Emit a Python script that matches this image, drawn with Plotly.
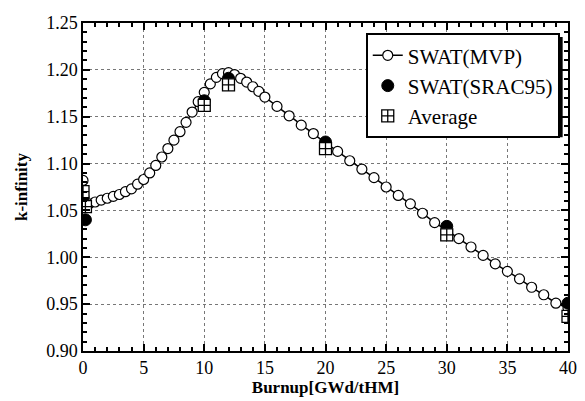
import plotly.graph_objects as go

# Burnup [GWd/tHM] and k-infinity values
mvp_x = [0, 0.1, 0.5, 1.0, 1.5, 2.0, 2.5, 3.0, 3.5, 4.0, 4.5, 5.0, 5.5, 6.0, 6.5,
         7.0, 7.5, 8.0, 8.5, 9.0, 9.5, 10.0, 10.5, 11.0, 11.5, 12.0, 12.5, 13.0,
         13.5, 14.0, 14.5, 15, 16, 17, 18, 19, 20, 21, 22, 23, 24, 25, 26, 27, 28,
         29, 30, 31, 32, 33, 34, 35, 36, 37, 38, 39, 40]
mvp_k = [1.082, 1.058, 1.057, 1.059, 1.061, 1.063, 1.065, 1.067, 1.070, 1.073,
         1.078, 1.083, 1.090, 1.098, 1.107, 1.116, 1.125, 1.134, 1.144, 1.155,
         1.166, 1.176, 1.185, 1.192, 1.196, 1.197, 1.195, 1.191, 1.187, 1.182,
         1.177, 1.171, 1.161, 1.151, 1.141, 1.132, 1.122, 1.113, 1.103, 1.094,
         1.085, 1.075, 1.066, 1.057, 1.047, 1.037, 1.029, 1.020, 1.011, 1.002,
         0.993, 0.985, 0.977, 0.968, 0.960, 0.951, 0.946]

srac_x = [0, 0.2, 10, 12, 20, 30, 40]
srac_k = [1.064, 1.040, 1.167, 1.191, 1.123, 1.033, 0.951]

avg_x = [0, 0.2, 10, 12, 20, 30, 40]
avg_k = [1.070, 1.054, 1.162, 1.184, 1.116, 1.024, 0.937]

x_ticks = [0, 5, 10, 15, 20, 25, 30, 35, 40]
y_ticks = [0.90, 0.95, 1.00, 1.05, 1.10, 1.15, 1.20, 1.25]

FONT = "Liberation Serif"

fig = go.Figure()
fig.add_trace(go.Scatter(
    x=mvp_x, y=mvp_k, name="SWAT(MVP)", mode="lines+markers",
    line=dict(color="black", width=1.5),
    marker=dict(symbol="circle", size=10, color="white",
                line=dict(color="black", width=1.2))))
fig.add_trace(go.Scatter(
    x=srac_x, y=srac_k, name="SWAT(SRAC95)", mode="markers",
    marker=dict(symbol="circle", size=12, color="black",
                line=dict(color="black", width=1))))
fig.add_trace(go.Scatter(
    x=avg_x, y=avg_k, name="Average", mode="markers",
    marker=dict(symbol="square-cross", size=12, color="white",
                line=dict(color="black", width=1.3))))

axis_common = dict(
    showline=True, linecolor="black", linewidth=1.5, mirror="allticks",
    ticks="inside", ticklen=7, tickwidth=1.5, tickcolor="black",
    showgrid=True, gridcolor="#777", griddash="dot", gridwidth=1,
    zeroline=False, automargin=False,
    tickfont=dict(family=FONT, size=18, color="black"),
)

fig.update_xaxes(
    range=[0, 40], tickvals=x_ticks, ticktext=[str(v) for v in x_ticks],
    minor=dict(dtick=1, ticks="inside", ticklen=4, tickcolor="black", showgrid=False),
    title=dict(text="<b>Burnup[GWd/tHM]</b>", font=dict(family=FONT, size=17, color="black"),
               standoff=0),
    **axis_common)
fig.update_yaxes(
    range=[0.90, 1.25], tickvals=y_ticks, ticktext=[f"{v:.2f}" for v in y_ticks],
    minor=dict(dtick=0.01, ticks="inside", ticklen=4, tickcolor="black", showgrid=False),
    title=dict(text="<b>k-infinity</b>", font=dict(family=FONT, size=17, color="black"),
               standoff=14),
    **axis_common)

# legend drop shadow
fig.add_shape(type="rect", xref="paper", yref="paper",
              x0=0.592, x1=0.989, y0=0.652, y1=0.957,
              fillcolor="black", line=dict(width=0), layer="above")

fig.update_layout(
    width=585, height=401,
    margin=dict(l=83, r=17, t=23, b=50),
    paper_bgcolor="white", plot_bgcolor="white",
    font=dict(family=FONT, color="black"),
    showlegend=True,
    legend=dict(x=0.583, y=0.969, xanchor="left", yanchor="top",
                bgcolor="white", bordercolor="black", borderwidth=2,
                font=dict(family=FONT, size=21, color="black"),
                itemwidth=30, tracegroupgap=0),
)

fig.write_html("out.html", config={"displayModeBar": False},
               post_script="document.body.style.margin='0';")
